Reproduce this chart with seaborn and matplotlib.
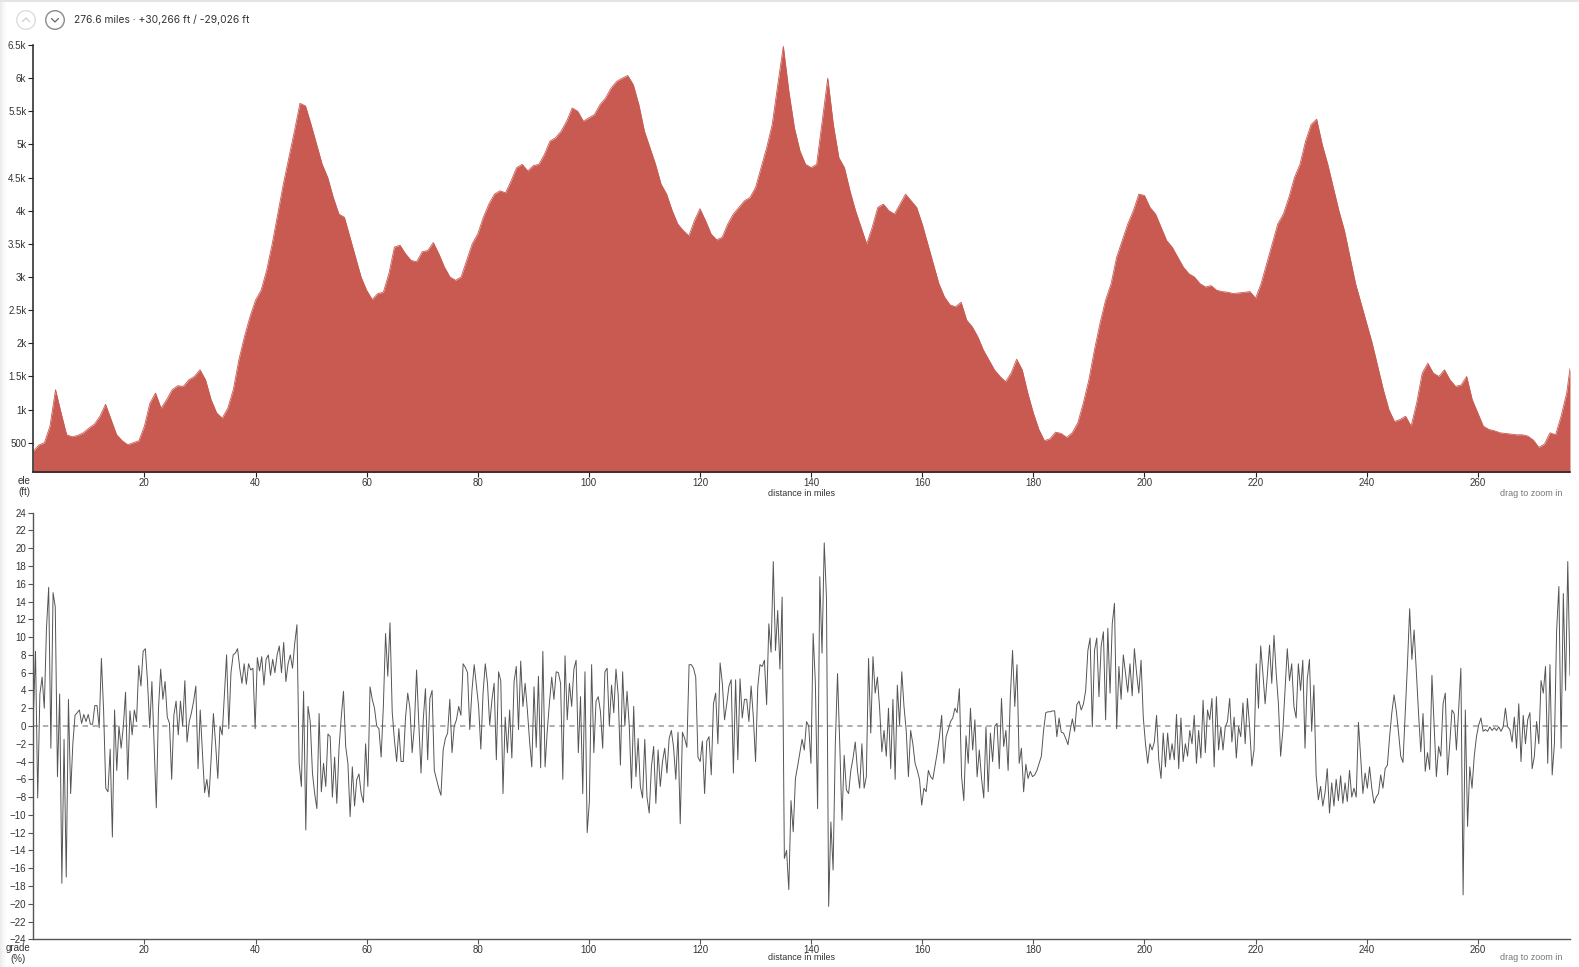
import numpy as np
import pandas as pd
import matplotlib
matplotlib.use('Agg')
import matplotlib.pyplot as plt
from matplotlib.patches import Circle, Rectangle
from matplotlib.lines import Line2D
import seaborn as sns

# elevation in feet, one reading per mile, last one is the end of the route
elev_ft = [
    370, 465, 500, 750, 1300, 950, 620, 590, 610, 650,
    720, 780, 900, 1080, 850, 620, 530, 470, 500, 530,
    750, 1100, 1250, 1020, 1150, 1300, 1360, 1350, 1450, 1500,
    1600, 1450, 1150, 950, 870, 1020, 1300, 1750, 2100, 2400,
    2650, 2800, 3100, 3500, 3950, 4400, 4800, 5200, 5620, 5580,
    5300, 5000, 4700, 4500, 4200, 3950, 3900, 3600, 3300, 3000,
    2800, 2660, 2750, 2770, 3050, 3450, 3480, 3350, 3250, 3230,
    3380, 3400, 3520, 3350, 3150, 3000, 2950, 3000, 3250, 3500,
    3650, 3900, 4100, 4250, 4300, 4270, 4450, 4650, 4700, 4600,
    4680, 4700, 4850, 5050, 5100, 5200, 5350, 5550, 5500, 5350,
    5400, 5450, 5600, 5700, 5850, 5950, 6000, 6040, 5900, 5600,
    5200, 4950, 4700, 4400, 4250, 4000, 3800, 3700, 3620, 3850,
    4030, 3850, 3650, 3560, 3600, 3800, 3950, 4050, 4150, 4200,
    4350, 4650, 4950, 5300, 5900, 6480, 5800, 5250, 4900, 4700,
    4650, 4700, 5350, 6000, 5300, 4800, 4650, 4300, 4000, 3750,
    3500, 3750, 4050, 4100, 4000, 3950, 4100, 4250, 4150, 4050,
    3800, 3500, 3200, 2900, 2700, 2580, 2550, 2620, 2350, 2250,
    2100, 1900, 1750, 1600, 1500, 1420, 1550, 1760, 1600, 1250,
    950, 700, 530, 560, 660, 640, 580, 650, 800, 1100,
    1450, 1900, 2300, 2650, 2900, 3300, 3550, 3800, 4000, 4250,
    4230, 4050, 3950, 3750, 3550, 3450, 3300, 3150, 3050, 3000,
    2900, 2850, 2870, 2800, 2780, 2770, 2750, 2760, 2770, 2780,
    2680, 2900, 3200, 3500, 3800, 3950, 4200, 4500, 4700, 5050,
    5300, 5380, 5000, 4700, 4350, 4000, 3700, 3300, 2900, 2600,
    2300, 2000, 1650, 1300, 1000, 820, 850, 900, 750, 1100,
    1550, 1700, 1550, 1500, 1600, 1450, 1350, 1370, 1500, 1150,
    950, 750, 700, 680, 650, 640, 630, 620, 620, 600,
    540, 430, 480, 650, 620, 900, 1250, 1620,
]
elev_miles = list(range(len(elev_ft) - 1)) + [276.6]

# grade in percent in six stretches of the route
grade_a = [
    1, 8.4, -8.1, 3.6, 5.5, 2, 11, 15.6, -2.5, 15,
    13.4, -5.7, 3.6, -17.7, -1.5, -17, 3, -7.6, -2, 1.2, 1.5,
    1.8, 0.3, 1.3, 0.5, 1.3, 0.2, 0.2, 2.3, 2.3, -0.2,
    7.6, 1.8, -7, -7.4, -2.6, -12.5, 1.8, -5, 0, -2.5,
    0, 3.8, -6, 1.7, -1, 1.8, 0.5, 6.8, 4.5, 8.4,
    8.7, 5, -0.2, 5, -2, -9.2, 2, 6.4, 3, 5,
    1, 0.3, -6, 1.2, 2.8, -1, 2.8, 0, 5.1, -1.8,
    0.5, 1.5, 2.8, 4.5, -4.8, 1.8, -3, -7.5, -6, -8,
    -3.5, 1.4, -2, -5.9, 0, -1, 3.5, 8, -0.3, 6,
    8, 8.2, 8.7, 6.5, 4.8, 7, 4.7, 7, 6.3, 6.5,
    -0.3, 7.7, 6.2, 7.8, 4.6, 7.5, 8, 5.7, 7.5, 6,
    8, 9, 6, 9.4, 5,
]
grade_b = [
    7, 8, 6.5, 9.3, 11.4, -4.2, -6.8, 3.9, -11.7, 2.2,
    0.5, -5.3, -7.6, -9.3, 1.4, -7.4, -4.2, -6.8, -0.9, -1.2,
    -8, -3.5, -8.7, -2.5, 1, 3.9, -2.3, -4.2, -10.2, -4.6,
    -9, -6, -5.4, -7.6, -8.6, -2, -6.8, 4.4, 3, 2,
    0, -0.3, -3.5, 2.2, 10.4, 5.6, 11.6, 1.6, -1.6, -4,
    -0.3, -4, -4, 0.9, 3.7, 2, -3, 0, 6.3, 0.3,
    -5.3, 0.7, 4.2, -3.8, 3.1, 4, -5, -6, -7, -7.8,
    -2.7, -1.4, -0.8, 3, -3, 0, 0.7, 2.2, 1.2, 7,
    6.6, 6, -0.4, 4, 6.9, 4.6, 2.2, -2.6, 3.7, 7,
    4.8, 0.1, 2.9, 4.8, -3.8, 6.1, 5.1, -7.6, 1, -3,
    1.8, -3.6, 5, 6.7, -0.4, 7.3, 2.2, 4.8, 1.8, -1.7,
    -4.6, 4.4, -2.4, 5.6, -4.7,
]
grade_c = [
    8.4, -4.6, -0.5, 2.7, 5.5, 3, 6.1, 6, 4.8, -6,
    7.9, 0.7, 4.8, 2.2, 6.4, 7.4, -3, 3.3, -7.6, 6.1,
    -12, -8.5, 6.9, -3, 2.8, 3.3, 1.6, -2.5, 6.1, 6.5,
    0, 4.6, 1.5, 6.4, 3.5, -4.4, 6.1, 0, 3.9, 0,
    -7, 2.2, -5.7, -1.4, -6.8, -8.1, -1.5, -8, -9.8, -4.6,
    -2.3, -8.7, -2.7, -6.8, -4, -2.5, -5.3, -1.4, -0.5, -2.4,
    -6, -0.7, -11, -0.7, -1.4, -2.4, 6.9, 6.9, 6.5, 5.5,
    -3.5, -4, -1.7, -7.6, -1.7, -1.2, -5.5, 2.5, 3.7, -2,
    7.1, 4.8, 0.7, 2.5, 4.5, 5.2, -5.3, 5.2, -3.8, 5.3,
    0.9, 3, 3, 0.5, 4.5, 1, -4, 4.4, 6.9, 6.7,
    7.4, 2.4, 11.5, 8.3, 18.5, 8.5, 13, 6.4, 14.5, -14.9,
    -14, -18.4, -8.4, -11.9, -5.9,
]
grade_d = [
    -4.5, -3, -1.5, -2.7, 0.5, 0, -4.2, 10.4, 4.8, -9.3,
    16.8, 8.2, 20.6, 14.5, -20.3, -10.8, -16.2, -2, 5.9, -2,
    -10.6, -3.3, -7.2, -7.6, -5, -3.6, -1.8, -5, -7, -2,
    -7, -5.7, 7.6, -0.8, 7.8, 3.7, 5.5, 2, -2.9, -0.5,
    -3.4, 2, -4.8, 3, -6, 4.6, 0.1, 6.1, 2.2, -0.5,
    -5.7, -0.5, -2, -4.2, -5, -6, -8.9, -7, -7.4, -5,
    -5.7, -6, -4.5, -3, -1.2, 1.2, -4.2, -1.2, -0.4, 0.5,
    0.9, 2, 1.5, 4.2, -5.7, -8.4, -1.1, -4.2, 2, -2.7,
    0.7, -5.7, -2.7, -5.9, -8.1, -0.1, -7.4, -0.8, -4, 0,
    0.3, -4.8, 3.1, -2.3, -0.5, -5, 3.3, 8.5, 2.2, 6.9,
    -4.2, -2.5, -7.4, -4.3, -5.9, -5.1, -5.7, -5.5, -5, -4.2,
    -3.4, -0.5, 1.5, 1.6, 1.6,
]
grade_e = [
    1.7, 1.7, -1.2, 0.9, -0.7, -0.8, -1.4, -2.1, -0.5, 0.8,
    -0.6, 2.4, 2.8, 1.8, 2.5, 4, 8.5, 9.9, -0.1, 8.5,
    9.9, 3.3, 9, 10.6, 0.7, 11, 3.7, 11.5, 13.8, -0.3,
    6.7, 3, 8, 5.9, 3.8, 7, 3.4, 8.7, 5.9, 3.7,
    7.4, 1, -2, -4.2, -2, -2.7, -1.8, 1.2, -3.8, -5.9,
    -0.8, -4.6, -0.8, -3.8, -2, -3.8, 1.3, -4.8, 0.9, -4,
    -2, -3.4, -0.5, -2, 1.2, -4.2, -0.5, -3.6, 2.9, -3,
    1.8, 0.7, 3.1, -4.6, 3.3, -2.7, -0.1, -2.7, -0.1, 0.5,
    3.1, -1.8, 1, -3.6, -0.1, -1.2, 2.6, -2, 3.1, -0.1,
    -4.5, -2.7, 7, 2, 9, 5.9, 2.5, 5.7, 9.1, 4.8,
    10.2, 5.9, 2.5, -3.4, -0.5, 4, 8.7, 5.1, 7, 2.2,
    0.9, 7, 4, 7.4, -2.5,
]
grade_f = [
    5.2, 7.5, -0.6, 4.6, -5.5, -8.3, -6.8, -9, -7.5, -4.8,
    -9.8, -6.4, -9, -6, -8.4, -5.6, -8.7, -6.4, -8.5, -5,
    -8, -7, -8, 0.4, -3.5, -7.6, -5.3, -7, -4.6, -7,
    -8.7, -8, -7.6, -5.5, -7, -4.8, -4.4, -1.2, 1.5, 3.5,
    1.7, -0.7, -3.4, -4.1, 1.4, 6.9, 13.2, 7.5, 10.8, 6.1,
    1.4, -2.9, 1.4, -5.1, -3, -4.9, 5.7, 0, -5.7, -2.3,
    -3.4, 2.5, 3.7, -5.5, -2, 1.8, 1.4, -2.7, 1.8, 6.5,
    -19, 1.8, -11.3, -4.6, -7, -3.4, -1.2, 0.1, 0.9, -0.6,
    -0.4, -0.6, -0.1, -0.5, -0.2, -0.5, -0.1, -0.6, -0.1, 2,
    -0.1, -0.4, -1.8, 1, -2.5, 2.5, -4, 1.2, -2, 0.7,
    1.5, -4.8, -3.4, 0.5, -2, 5.1, 3.7, 6.7, -4.2, 6.9,
    -5.5, -2, 10.8, 15.7, -2.5, 14.9, 4, 18.5, 5.7,
]
grade_stretches = [grade_a, grade_b, grade_c, grade_d, grade_e, grade_f]
stretch_ends = [0, 45.86, 91.72, 137.58, 183.44, 229.3, 276.6]

elev_ticks = [500, 1000, 1500, 2000, 2500, 3000, 3500, 4000, 4500, 5000, 5500, 6000, 6500]
elev_tick_labels = ['500', '1k', '1.5k', '2k', '2.5k', '3k', '3.5k', '4k', '4.5k', '5k', '5.5k', '6k', '6.5k']
grade_ticks = list(range(-24, 25, 2))
mile_ticks = list(range(20, 261, 20))
summary = '276.6 miles · +30,266 ft / -29,026 ft'

W, H = 1579, 967
RED = '#c85a52'
DARK = '#555555'
TEXT = '#333333'

sns.set_theme(style='white')
plt.rcParams['font.family'] = ['Liberation Sans', 'DejaVu Sans']

elev_df = pd.DataFrame({'mile': elev_miles, 'ele': elev_ft})
grade_df = pd.concat([
    pd.DataFrame({'mile': np.linspace(stretch_ends[i], stretch_ends[i + 1], len(vals), endpoint=(i == 5)),
                  'grade': vals})
    for i, vals in enumerate(grade_stretches)
])


def axes_px(left, top, right, bottom):
    return fig.add_axes([left / W, 1 - bottom / H, (right - left) / W, (bottom - top) / H])


def style_axis(ax, color, lw):
    sns.despine(ax=ax)
    ax.set_xlim(0, 276.6)
    ax.set_xticks(mile_ticks)
    ax.set_facecolor('none')
    for side in ['left', 'bottom']:
        ax.spines[side].set_color(color)
        ax.spines[side].set_linewidth(lw)
    ax.tick_params(axis='y', length=3.5, width=0.8, color=color, labelsize=7.0, labelcolor=TEXT, pad=1.5, left=True)
    ax.tick_params(axis='x', length=3.5, width=0.8, color=color, labelsize=7.0, labelcolor=TEXT, pad=0.5, bottom=True)


fig = plt.figure(figsize=(W / 100, H / 100), dpi=100, facecolor='white')

# page furniture behind the charts
bg = fig.add_axes([0, 0, 1, 1], zorder=3)
bg.set_xlim(0, W)
bg.set_ylim(H, 0)
bg.axis('off')
bg.patch.set_alpha(0)
for i, c in enumerate(['#ececec', '#f0f0f0', '#f4f4f4', '#f7f7f7', '#fafafa', '#fcfcfc']):
    bg.add_patch(Rectangle((i, 0), 1, H, fc=c, ec='none'))
bg.add_patch(Rectangle((0, 0), W, 1.5, fc='#e4e4e4', ec='none'))
bg.add_patch(Circle((26, 20), 9.3, fc='white', ec='#dddddd', lw=1))
bg.add_patch(Circle((55, 20), 9.3, fc='white', ec='#8a8a8a', lw=1))
bg.add_line(Line2D([22.5, 26, 29.5], [21.5, 18, 21.5], color='#cccccc', lw=0.9))
bg.add_line(Line2D([51.5, 55, 58.5], [18.5, 22, 18.5], color='#666666', lw=0.9))
bg.text(74, 19.5, summary, family='Inter', fontsize=7.4, color=TEXT, va='center')

# elevation
ax1 = axes_px(33.3, 45, 1570, 472.3)
sns.lineplot(data=elev_df, x='mile', y='ele', ax=ax1, color=RED, lw=0.6, errorbar=None)
ax1.fill_between(elev_df['mile'], elev_df['ele'], 0, color=RED, lw=0)
ax1.set_ylim(54, 6500)
ax1.set_yticks(elev_ticks)
ax1.set_yticklabels(elev_tick_labels)
style_axis(ax1, '#222222', 1.1)
ax1.set_xlabel('')
ax1.set_ylabel('')

# grade
ax2 = axes_px(33.3, 512.7, 1570, 939.3)
ax2.axhline(0, color='#999999', lw=1.1, dashes=(3.5, 3), zorder=1)
sns.lineplot(data=grade_df, x='mile', y='grade', ax=ax2, color=DARK, lw=0.7, errorbar=None, sort=False, zorder=2)
ax2.set_ylim(-24, 24)
ax2.set_yticks(grade_ticks)
style_axis(ax2, '#555555', 1.0)
ax2.set_xlabel('')
ax2.set_ylabel('')

bg.text(24.5, 486.5, 'ele\n(ft)', fontsize=7.0, color=TEXT, va='center', ha='center', linespacing=1.05)
bg.text(18, 953.5, 'grade\n(%)', fontsize=7.0, color=TEXT, va='center', ha='center', linespacing=1.05)

for y in [493, 958]:
    bg.text(801, y, 'distance in miles', fontsize=6.5, color=TEXT, ha='center', va='center')
    bg.text(1562, y, 'drag to zoom in', fontsize=6.5, color='#777777', ha='right', va='center')

fig.savefig('out.png', dpi=100)
